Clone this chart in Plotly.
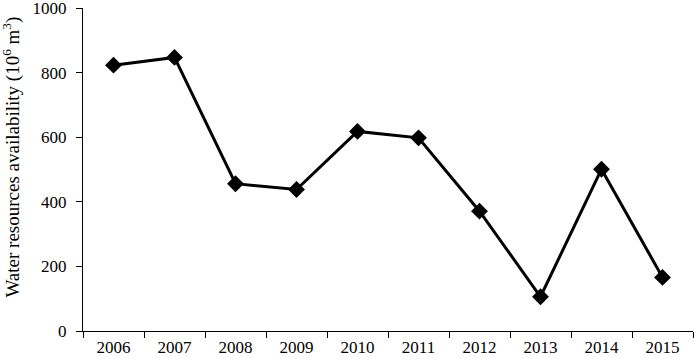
import plotly.graph_objects as go

years = ["2006", "2007", "2008", "2009", "2010", "2011", "2012", "2013", "2014", "2015"]
availability = [823, 847, 456, 438, 618, 598, 371, 106, 501, 166]
y_ticks = [0, 200, 400, 600, 800, 1000]
y_title = "Water resources availability (10<sup>6</sup> m<sup>3</sup>)"

fig = go.Figure()
fig.add_trace(go.Scatter(
    x=years, y=availability, mode="lines+markers",
    line=dict(color="black", width=3),
    marker=dict(symbol="diamond", size=13, color="black"),
    showlegend=False, cliponaxis=False,
))

font = dict(family="Liberation Serif", size=17, color="black")
fig.update_layout(
    width=699, height=359,
    margin=dict(l=83, r=6, t=8, b=28),
    paper_bgcolor="white", plot_bgcolor="white",
    font=font,
)
fig.update_xaxes(
    type="category", range=[-0.5, 9.5], automargin=False,
    showline=True, linecolor="black", linewidth=1.2,
    ticks="outside", ticklen=6, tickcolor="black", tickson="boundaries",
    showgrid=False, zeroline=False, tickfont=font, ticklabeloverflow="allow",
)
fig.update_yaxes(
    range=[0, 1000], tickvals=y_ticks, automargin=False,
    showline=True, linecolor="black", linewidth=1.2,
    ticks="outside", ticklen=6, tickcolor="black", ticklabelstandoff=6,
    showgrid=False, zeroline=False, tickfont=font, ticklabeloverflow="allow",
)
fig.add_annotation(
    text=y_title, textangle=-90, showarrow=False,
    xref="paper", yref="paper", x=0, y=0.537, xshift=-71,
    xanchor="center", yanchor="middle",
    font=dict(family="Liberation Serif", size=19, color="black"),
)
fig.write_html("out.html", config={"displayModeBar": False},
               post_script="document.body.style.margin='0';document.body.style.padding='0';")
